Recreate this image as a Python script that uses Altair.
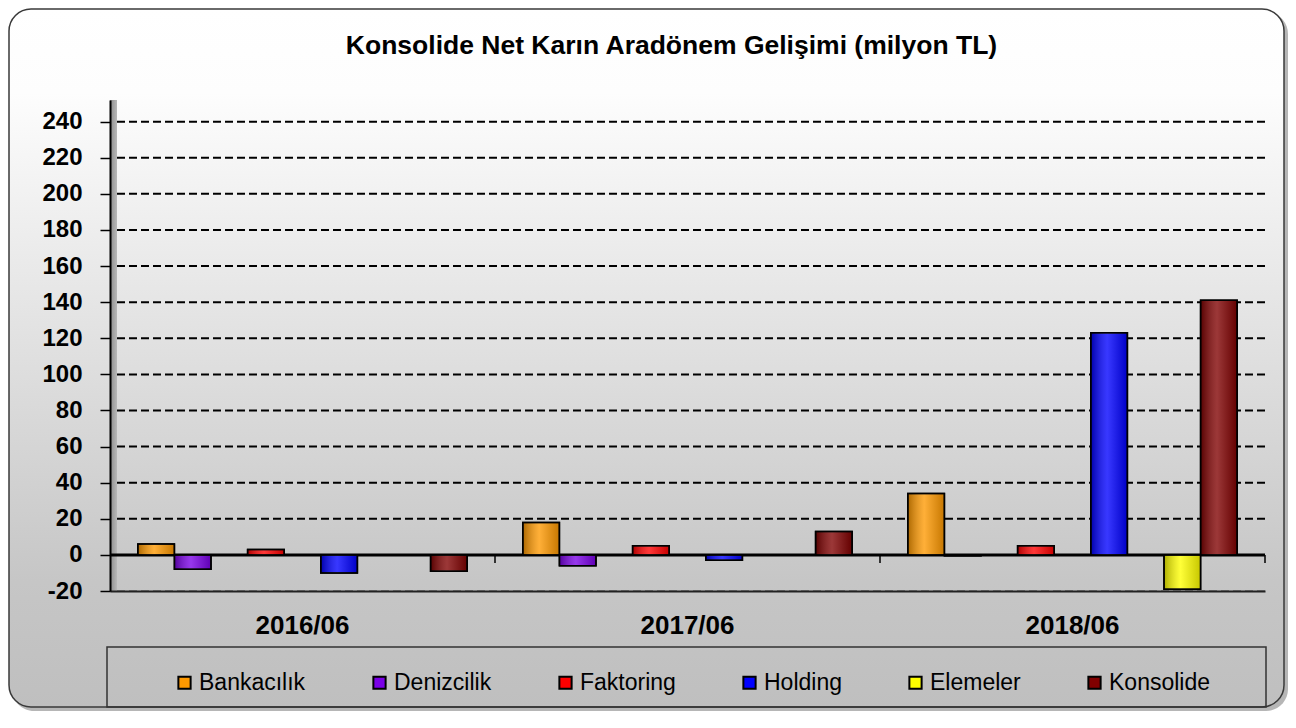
import altair as alt
import pandas as pd

# ---------------- data ----------------
title_text = "Konsolide Net Karın Aradönem Gelişimi (milyon TL)"
periods = ["2016/06", "2017/06", "2018/06"]
series = ["Bankacılık", "Denizcilik", "Faktoring", "Holding", "Elemeler", "Konsolide"]
colors = ["#FF9900", "#7A00E6", "#FF0000", "#0000FF", "#FFFF00", "#800000"]

bankacilik = [6, 18, 34]
denizcilik = [-8, -6, -0.5]
faktoring = [3, 5, 5]
holding = [-10, -3, 123]
elemeler = [0, 0, -19]
konsolide = [-9, 13, 141]

# bar slots inside each period (blank slots are empty series in the original)
slots = ["Bankacılık", "Denizcilik", " ", "Faktoring", "  ", "Holding", "   ", "Elemeler", "Konsolide"]
grid_ticks = list(range(20, 241, 20))
y_ticks = list(range(-20, 241, 20))

rows = []
for s, vals in zip(series, [bankacilik, denizcilik, faktoring, holding, elemeler, konsolide]):
    for p, v in zip(periods, vals):
        rows.append({"period": p, "series": s, "value": v})
df = pd.DataFrame(rows)

W, H = 1155, 491
FONT = "Liberation Sans"

one = pd.DataFrame({"k": [0]})

x_axis = alt.Axis(title=None, labelAngle=0, labelFont=FONT, labelFontSize=26,
                  labelFontWeight="bold", labelColor="black", ticks=False, tickSize=0,
                  labelPadding=21, domainColor="#222222", domainWidth=2, grid=False, zindex=1)
x_scale = alt.Scale(paddingInner=0, paddingOuter=0)
y_axis = alt.Axis(values=y_ticks, title=None, labelFont=FONT, labelFontSize=24,
                  labelFontWeight="bold", labelColor="black", tickColor="black",
                  tickSize=10, tickWidth=1.5, labelPadding=18, domainColor="black",
                  domainWidth=2, grid=False, labelFlush=False, labelOverlap=False, zindex=1,
                  labelExpr="'' + datum.value")
y_scale = alt.Scale(domain=[-20, 252], nice=False, zero=False)

x_enc = alt.X("period:N", sort=periods, title=None, scale=x_scale, axis=x_axis)
xo_enc = alt.XOffset("series:N", scale=alt.Scale(domain=slots, paddingInner=0, paddingOuter=0.76))


def y_of(field="value"):
    return alt.Y(f"{field}:Q", title=None, scale=y_scale, axis=y_axis)


# ---------------- decoration ----------------
frame_grad = alt.LinearGradient(
    gradient="linear", x1=0, x2=0, y1=0, y2=1,
    stops=[alt.GradientStop(color="#ffffff", offset=0),
           alt.GradientStop(color="#fdfdfd", offset=0.12),
           alt.GradientStop(color="#c6c6c6", offset=0.82),
           alt.GradientStop(color="#bfbfbf", offset=1)],
)
shadow = alt.Chart(one).mark_rect(cornerRadius=22, fill="#7a7a7a", opacity=0.55).encode(
    x=alt.value(-98), x2=alt.value(1178), y=alt.value(-88), y2=alt.value(611))
frame = alt.Chart(one).mark_rect(cornerRadius=22, fill=frame_grad, stroke="#3a3a3a", strokeWidth=1.5).encode(
    x=alt.value(-101), x2=alt.value(1174), y=alt.value(-91), y2=alt.value(607))
legend_box = alt.Chart(one).mark_rect(fillOpacity=0, stroke="#333333", strokeWidth=1.5).encode(
    x=alt.value(-3), x2=alt.value(1156), y=alt.value(547), y2=alt.value(607))

title = alt.Chart(pd.DataFrame({"t": [title_text]})).mark_text(
    font=FONT, fontSize=26.5, fontWeight="bold", color="black", align="center",
    baseline="alphabetic").encode(text="t:N", x=alt.value(W / 2 - 16), y=alt.value(-46))

wall_grad = alt.LinearGradient(
    gradient="linear", x1=0, x2=1, y1=0, y2=0,
    stops=[alt.GradientStop(color="#8c8c8c", offset=0),
           alt.GradientStop(color="#b8b8b8", offset=1)],
)
wall = alt.Chart(one).mark_rect(fill=wall_grad).encode(
    x=alt.value(0), x2=alt.value(7), y=alt.value(0), y2=alt.value(H))

grid_df = pd.DataFrame({"value": grid_ticks})
grid = alt.Chart(grid_df).mark_rule(color="black", strokeWidth=2, strokeDash=[8, 4]).encode(y=y_of())
floor_grid = alt.Chart(pd.DataFrame({"value": [-20]})).mark_rule(
    color="#777777", strokeWidth=1.5, strokeDash=[8, 4]).encode(y=y_of())
zero_line = alt.Chart(pd.DataFrame({"value": [0]})).mark_rule(color="black", strokeWidth=3).encode(y=y_of())

tick_df = pd.DataFrame({"period": periods[1:], "value": [0, 0], "v2": [-4.5, -4.5]})
sep_ticks = alt.Chart(tick_df).mark_rule(color="black", strokeWidth=1.5).encode(
    x=alt.X("period:N", sort=periods, bandPosition=0, title=None, scale=x_scale, axis=x_axis),
    y=y_of(), y2="v2:Q")
end_df = pd.DataFrame({"period": periods[2:], "value": [0], "v2": [-4.5]})
end_tick = alt.Chart(end_df).mark_rule(color="black", strokeWidth=1.5).encode(
    x=alt.X("period:N", sort=periods, bandPosition=1, title=None, scale=x_scale, axis=x_axis),
    y=y_of(), y2="v2:Q")

# ---------------- bars ----------------
bars = alt.Chart(df).mark_bar(stroke="black", strokeWidth=1.5).encode(
    x=x_enc, xOffset=xo_enc, y=y_of(),
    color=alt.Color(
        "series:N", scale=alt.Scale(domain=series, range=colors),
        legend=alt.Legend(title=None, orient="none", legendX=63, legendY=571,
                          direction="horizontal", columns=6, symbolType="square",
                          symbolSize=150, symbolStrokeColor="black", symbolStrokeWidth=2,
                          labelFont=FONT, labelFontSize=23, labelColor="black",
                          columnPadding=62, labelOffset=3, padding=0),
    ),
)
shade = alt.LinearGradient(
    gradient="linear", x1=0, x2=1, y1=0, y2=0,
    stops=[alt.GradientStop(color="rgba(0,0,0,0.32)", offset=0),
           alt.GradientStop(color="rgba(255,255,255,0.22)", offset=0.45),
           alt.GradientStop(color="rgba(0,0,0,0.22)", offset=1)],
)
shading = alt.Chart(df).mark_bar(fill=shade, strokeWidth=0).encode(
    x=x_enc, xOffset=xo_enc, y=y_of())
outline = alt.Chart(df).mark_bar(fillOpacity=0, stroke="black", strokeWidth=1.5).encode(
    x=x_enc, xOffset=xo_enc, y=y_of())

chart = alt.layer(
    shadow, frame, legend_box, title, grid, floor_grid, wall, zero_line,
    bars, shading, outline, sep_ticks, end_tick,
).properties(
    width=W, height=H,
    autosize=alt.AutoSizeParams(type="none"),
    padding={"left": 102, "top": 92, "right": 23, "bottom": 120},
).configure_view(strokeWidth=0).configure_axisY(labelOverlap=False)

chart.save("out.html", embed_options={"renderer": "svg", "actions": False})
